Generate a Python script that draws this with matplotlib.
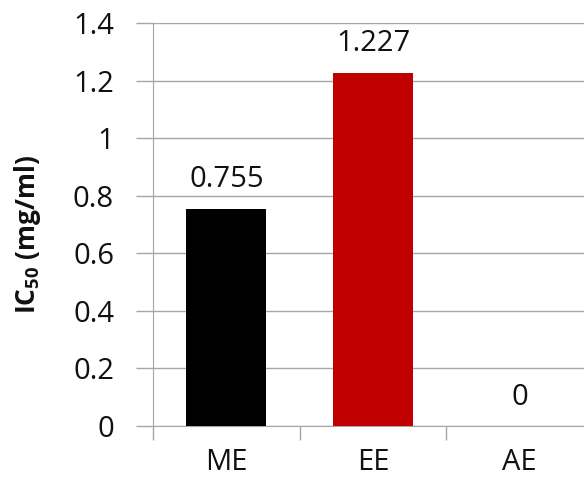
import matplotlib.pyplot as plt
import numpy as np

categories = ["ME", "EE", "AE"]
ic50 = [0.755, 1.227, 0]
value_labels = ["0.755", "1.227", "0"]
bar_colors = ["#000000", "#C00000", "#FFFFFF"]
yticks = [0, 0.2, 0.4, 0.6, 0.8, 1, 1.2, 1.4]
ytick_labels = ["0", "0.2", "0.4", "0.6", "0.8", "1", "1.2", "1.4"]

plt.rcParams['font.family'] = ['Open Sans', 'DejaVu Sans']
plt.rcParams['mathtext.fontset'] = 'custom'
plt.rcParams['mathtext.bf'] = 'Open Sans:bold'
grid_col = "#A6A6A6"
txt_col = "#111111"

fig = plt.figure(figsize=(5.84, 4.79), dpi=100)
ax = fig.add_axes([153/584, 1 - 426/479, 440/584, (426 - 23)/479])

x = np.arange(len(categories))
ax.bar(x, ic50, width=0.546, color=bar_colors, zorder=3)
for xi, v, lab in zip(x, ic50, value_labels):
    ax.text(xi, v + 0.05, lab, ha="center", va="bottom", fontsize=21, color=txt_col)

ax.set_xlim(-0.5, 2.5)
ax.set_ylim(0, 1.4)
ax.set_yticks(yticks)
ax.set_yticklabels(ytick_labels, fontsize=21, color=txt_col)
ax.tick_params(axis="y", length=12, width=1, color=grid_col, pad=16)
ax.yaxis.grid(True, color=grid_col, linewidth=1, zorder=0)

# category labels centered, ticks at boundaries
ax.set_xticks(x)
ax.set_xticklabels(categories, fontsize=21, color=txt_col)
ax.tick_params(axis="x", length=0, pad=16)
ax.set_xticks([-0.5, 0.5, 1.5, 2.5], minor=True)
ax.tick_params(axis="x", which="minor", length=10, width=1, color=grid_col)

for s in ["top", "right"]:
    ax.spines[s].set_visible(False)
ax.spines["left"].set_color(grid_col)
ax.spines["bottom"].set_color(grid_col)

ax.set_ylabel(r"IC$_{\mathbf{50}}$ (mg/ml)", fontsize=19, fontweight="bold", color=txt_col)
ax.yaxis.set_label_coords(-0.25, 0.474)

fig.savefig("out.png", dpi=100)
